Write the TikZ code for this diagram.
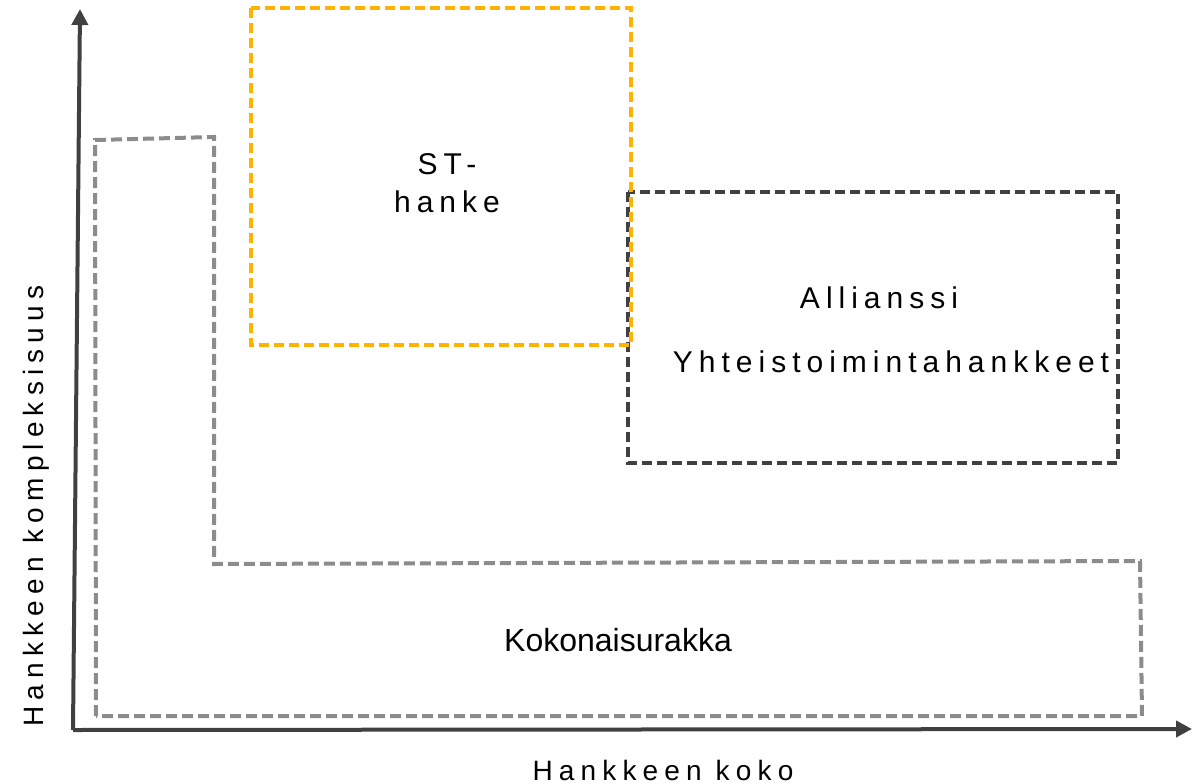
\documentclass[tikz,border=0pt]{standalone}
\usepackage{fontspec}
\setmainfont{Liberation Sans}
\newfontfamily\spacedfont[LetterSpace=20]{Liberation Sans}
\newfontfamily\axisfont[LetterSpace=22]{Liberation Sans}
\usetikzlibrary{arrows.meta}
\definecolor{axisgray}{HTML}{404040}
\definecolor{boxgray}{HTML}{8C8C8C}
\definecolor{boxorange}{HTML}{FFB300}
\tikzset{
  axisline/.style={draw=axisgray,line width=4pt,-{Triangle[length=16pt,width=16pt]}},
  ybox/.style={draw=boxgray,line width=4pt,dash pattern=on 11pt off 5pt},
  stbox/.style={draw=boxorange,line width=4pt,dash pattern=on 10pt off 5pt},
  abox/.style={draw=axisgray,line width=4pt,dash pattern=on 10pt off 5pt},
  label/.style={font=\fontsize{32}{38}\selectfont,text=black,inner sep=0pt},
  slabel/.style={font=\fontsize{30}{38}\spacedfont,text=black,inner sep=0pt,align=center},
  axislabel/.style={font=\fontsize{28}{34}\axisfont,text=black,inner sep=0pt}
}
\begin{document}
\begin{tikzpicture}[x=1pt,y=-1pt]
\useasboundingbox (0,0) rectangle (1202,784);
\coordinate (origin) at (73,730);
\coordinate (ytop) at (80,9);
\coordinate (xend) at (1192,729);
% boxes
\draw[ybox] (96,716) -- (95,140) -- (214,137) -- (214,564) -- (1140,561) -- (1142,716) -- cycle;
\draw[abox] (628,192) rectangle (1118,463);
\draw[stbox] (251,8) rectangle (631,345);
% axes
\draw[axisline] (origin) -- (ytop);
\draw[axisline] (origin) -- (xend);
% texts
\node[slabel] (st) at (447,183) {ST-\\hanke};
\node[slabel] (allianssi) at (879,298) {Allianssi};
\node[slabel] (yhteis) at (891,362) {Yhteistoimintahankkeet};
\node[label] (koko) at (618,640) {Kokonaisurakka};
\node[axislabel] (xlabel) at (663,770) {Hankkeen koko};
\node[axislabel,rotate=90] (ylabel) at (36,506) {Hankkeen kompleksisuus};
\end{tikzpicture}
\end{document}
